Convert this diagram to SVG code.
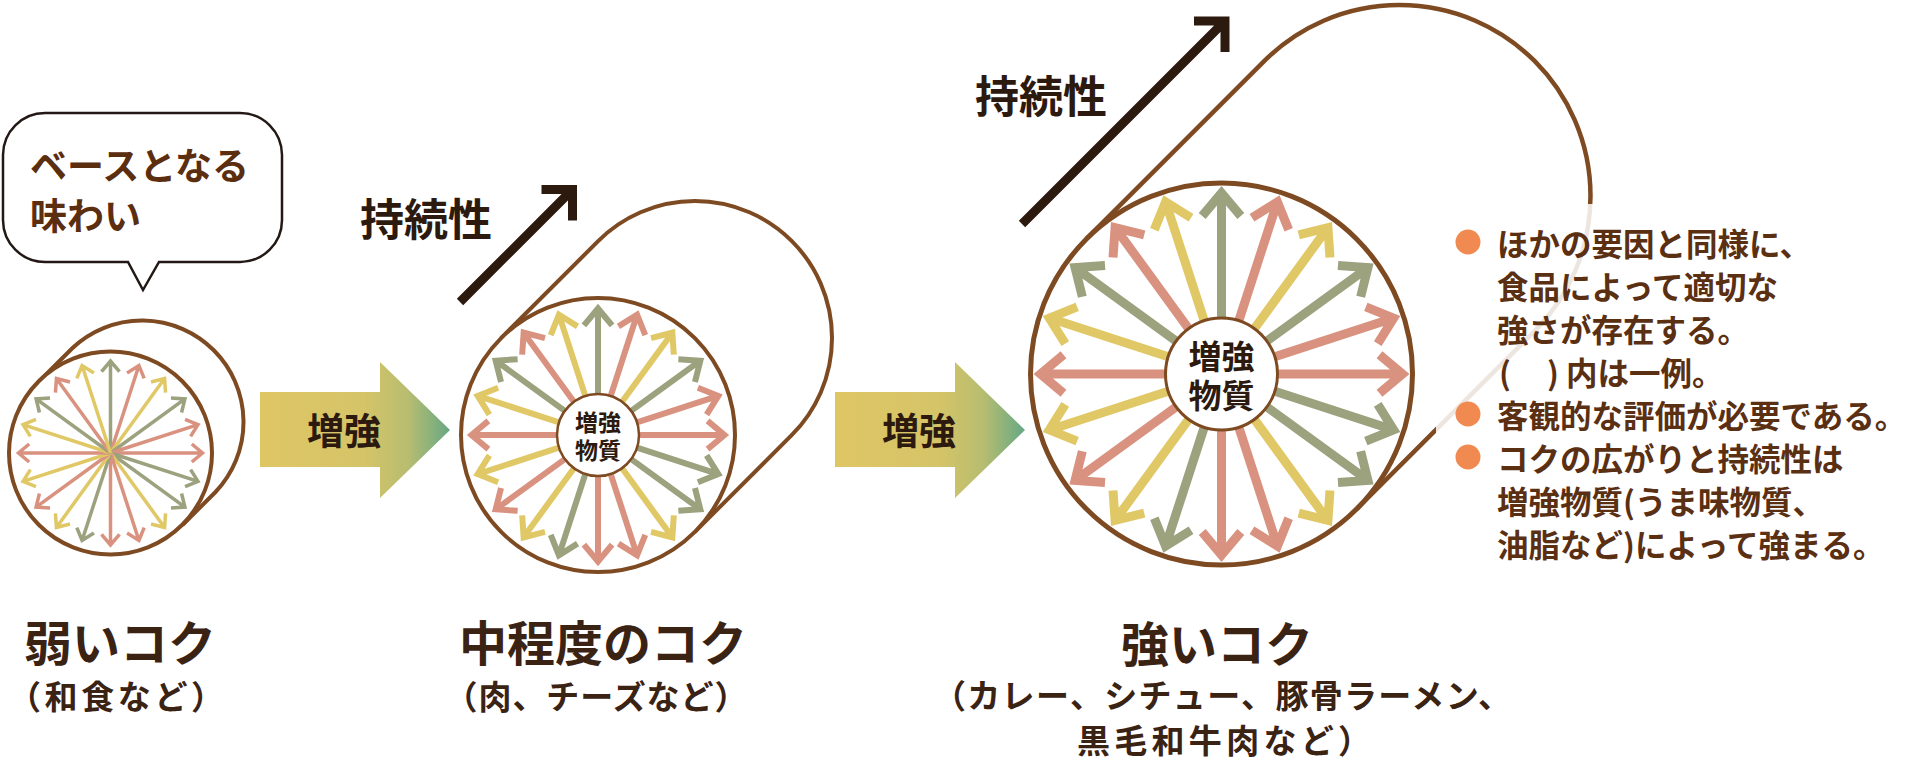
<svg xmlns="http://www.w3.org/2000/svg" xmlns:xlink="http://www.w3.org/1999/xlink" width="1916" height="762" viewBox="0 0 1916 762">
<style>
.t{font-family:"Noto Sans CJK JP","Noto Sans",sans-serif;}
.ring{fill:#fff;stroke:#7e4a22;}
.back{fill:none;stroke:#7e4a22;}
.sg{stroke:#9ba27d;}
.sp{stroke:#d9927f;}
.sy{stroke:#e1c866;}
.sk{fill:none;stroke-linejoin:miter;stroke-linecap:butt;}
.s1{stroke-width:3.5;}
.s2{stroke-width:6;}
.s3{stroke-width:9;}
.lbl{fill:#fff;stroke:#7e4a22;}
.title{font-size:48px;font-weight:700;fill:#3b2314;}
.sub{font-size:33px;font-weight:700;fill:#3b2314;}
.note{font-size:31.5px;font-weight:700;fill:#5a2f12;}
.bul{fill:#f08a50;}
.dur{fill:none;stroke:#2d1a0f;stroke-width:9;stroke-linejoin:miter;stroke-linecap:butt;}
</style>
<defs>
<linearGradient id="grad" x1="0" y1="0" x2="1" y2="0">
<stop offset="0" stop-color="#dfc665"/>
<stop offset="0.55" stop-color="#d5c468"/>
<stop offset="0.78" stop-color="#b7bd70"/>
<stop offset="1" stop-color="#66a884"/>
</linearGradient>
<path id="aL" d="M0,0 V-92 M-9,-81.3 L0,-92 L9,-81.3"/>
<path id="aM" d="M0,-41 V-126.5 M-14.1,-109.6 L0,-126.5 L14.1,-109.6"/>
<path id="aB" d="M0,-56 V-181 M-19.3,-158 L0,-181 L19.3,-158"/>
</defs>

<g id="bubble">
<path d="M45,113 H240 A42,42 0 0 1 282,155 V220 A42,42 0 0 1 240,262 H159 L143,290 L128,262 H45 A42,42 0 0 1 3,220 V155 A42,42 0 0 1 45,113 Z" fill="#fff" stroke="#231815" stroke-width="2.5"/>
<text class="t" x="30" y="164" dominant-baseline="central" font-size="37" font-weight="700" fill="#5a2e0e">ベースとなる</text>
<text class="t" x="30" y="214" dominant-baseline="central" font-size="37" font-weight="700" fill="#5a2e0e">味わい</text>
</g>

<g id="node-weak">
<path class="back" stroke-width="4" d="M39,381.5 L72,348.5 A101.5,101.5 0 0 1 215.5,492 L182.5,525"/>
<circle class="ring" cx="110.5" cy="453" r="101.5" stroke-width="4"/>
<g class="sk s1" transform="translate(110.5 453)">
<use xlink:href="#aL" class="sg" transform="rotate(0)"/>
<use xlink:href="#aL" class="sp" transform="rotate(18)"/>
<use xlink:href="#aL" class="sy" transform="rotate(36)"/>
<use xlink:href="#aL" class="sg" transform="rotate(54)"/>
<use xlink:href="#aL" class="sp" transform="rotate(72)"/>
<use xlink:href="#aL" class="sp" transform="rotate(90)"/>
<use xlink:href="#aL" class="sg" transform="rotate(108)"/>
<use xlink:href="#aL" class="sg" transform="rotate(126)"/>
<use xlink:href="#aL" class="sy" transform="rotate(144)"/>
<use xlink:href="#aL" class="sp" transform="rotate(162)"/>
<use xlink:href="#aL" class="sp" transform="rotate(180)"/>
<use xlink:href="#aL" class="sg" transform="rotate(198)"/>
<use xlink:href="#aL" class="sy" transform="rotate(216)"/>
<use xlink:href="#aL" class="sp" transform="rotate(234)"/>
<use xlink:href="#aL" class="sy" transform="rotate(252)"/>
<use xlink:href="#aL" class="sp" transform="rotate(270)"/>
<use xlink:href="#aL" class="sy" transform="rotate(288)"/>
<use xlink:href="#aL" class="sg" transform="rotate(306)"/>
<use xlink:href="#aL" class="sp" transform="rotate(324)"/>
<use xlink:href="#aL" class="sy" transform="rotate(342)"/>
</g>
<text class="t title" x="120" y="640" text-anchor="middle" dominant-baseline="central">弱いコク</text>
<text class="t sub" x="116" y="695" text-anchor="middle" dominant-baseline="central" textLength="216" lengthAdjust="spacing">（和食など）</text>
</g>

<g id="node-medium">
<path class="back" stroke-width="4" d="M501.1,338.1 L598.1,241.1 A137,137 0 0 1 791.9,434.9 L694.9,531.9"/>
<circle class="ring" cx="598" cy="435" r="137" stroke-width="4"/>
<g class="sk s2" transform="translate(598 435)">
<use xlink:href="#aM" class="sg" transform="rotate(0)"/>
<use xlink:href="#aM" class="sp" transform="rotate(18)"/>
<use xlink:href="#aM" class="sy" transform="rotate(36)"/>
<use xlink:href="#aM" class="sg" transform="rotate(54)"/>
<use xlink:href="#aM" class="sp" transform="rotate(72)"/>
<use xlink:href="#aM" class="sp" transform="rotate(90)"/>
<use xlink:href="#aM" class="sg" transform="rotate(108)"/>
<use xlink:href="#aM" class="sg" transform="rotate(126)"/>
<use xlink:href="#aM" class="sy" transform="rotate(144)"/>
<use xlink:href="#aM" class="sp" transform="rotate(162)"/>
<use xlink:href="#aM" class="sp" transform="rotate(180)"/>
<use xlink:href="#aM" class="sg" transform="rotate(198)"/>
<use xlink:href="#aM" class="sy" transform="rotate(216)"/>
<use xlink:href="#aM" class="sp" transform="rotate(234)"/>
<use xlink:href="#aM" class="sy" transform="rotate(252)"/>
<use xlink:href="#aM" class="sp" transform="rotate(270)"/>
<use xlink:href="#aM" class="sy" transform="rotate(288)"/>
<use xlink:href="#aM" class="sg" transform="rotate(306)"/>
<use xlink:href="#aM" class="sp" transform="rotate(324)"/>
<use xlink:href="#aM" class="sy" transform="rotate(342)"/>
</g>
<circle class="lbl" cx="598" cy="435" r="41" stroke-width="2.5"/>
<text class="t" x="598" y="421" text-anchor="middle" dominant-baseline="central" font-size="23" font-weight="700" fill="#2d1a0f">増強</text>
<text class="t" x="598" y="449" text-anchor="middle" dominant-baseline="central" font-size="23" font-weight="700" fill="#2d1a0f">物質</text>
<text class="t title" x="603" y="640" text-anchor="middle" dominant-baseline="central">中程度のコク</text>
<text class="t sub" x="596" y="695" text-anchor="middle" dominant-baseline="central" textLength="303" lengthAdjust="spacing">（肉、チーズなど）</text>
</g>

<g id="node-strong">
<path class="back" stroke-width="4.5" d="M1086.4,238.9 L1264.4,60.9 A191,191 0 0 1 1534.6,331.1 L1356.6,509.1"/>
<circle class="ring" cx="1221.5" cy="374" r="191" stroke-width="5"/>
<g class="sk s3" transform="translate(1221.5 374)">
<use xlink:href="#aB" class="sg" transform="rotate(0)"/>
<use xlink:href="#aB" class="sp" transform="rotate(18)"/>
<use xlink:href="#aB" class="sy" transform="rotate(36)"/>
<use xlink:href="#aB" class="sg" transform="rotate(54)"/>
<use xlink:href="#aB" class="sp" transform="rotate(72)"/>
<use xlink:href="#aB" class="sp" transform="rotate(90)"/>
<use xlink:href="#aB" class="sg" transform="rotate(108)"/>
<use xlink:href="#aB" class="sg" transform="rotate(126)"/>
<use xlink:href="#aB" class="sy" transform="rotate(144)"/>
<use xlink:href="#aB" class="sp" transform="rotate(162)"/>
<use xlink:href="#aB" class="sp" transform="rotate(180)"/>
<use xlink:href="#aB" class="sg" transform="rotate(198)"/>
<use xlink:href="#aB" class="sy" transform="rotate(216)"/>
<use xlink:href="#aB" class="sp" transform="rotate(234)"/>
<use xlink:href="#aB" class="sy" transform="rotate(252)"/>
<use xlink:href="#aB" class="sp" transform="rotate(270)"/>
<use xlink:href="#aB" class="sy" transform="rotate(288)"/>
<use xlink:href="#aB" class="sg" transform="rotate(306)"/>
<use xlink:href="#aB" class="sp" transform="rotate(324)"/>
<use xlink:href="#aB" class="sy" transform="rotate(342)"/>
</g>
<circle class="lbl" cx="1221.5" cy="374" r="56" stroke-width="3"/>
<text class="t" x="1221.5" y="355" text-anchor="middle" dominant-baseline="central" font-size="33" font-weight="700" fill="#2d1a0f">増強</text>
<text class="t" x="1221.5" y="394" text-anchor="middle" dominant-baseline="central" font-size="33" font-weight="700" fill="#2d1a0f">物質</text>
<text class="t title" x="1217" y="641" text-anchor="middle" dominant-baseline="central">強いコク</text>
<text class="t sub" x="1222" y="694" text-anchor="middle" dominant-baseline="central" font-size="33" textLength="578" lengthAdjust="spacing">（カレー、シチュー、豚骨ラーメン、</text>
<text class="t sub" x="1224" y="739" text-anchor="middle" dominant-baseline="central" font-size="32" textLength="294" lengthAdjust="spacing">黒毛和牛肉など）</text>
</g>

<g id="connectors">
<polygon points="260,392 380,392 380,362 450,430 380,498 380,467 260,467" fill="url(#grad)"/>
<text class="t" x="344" y="429" text-anchor="middle" dominant-baseline="central" font-size="37" font-weight="700" fill="#2d1a0f">増強</text>
<polygon points="835,392 955,392 955,362 1025,430 955,498 955,467 835,467" fill="url(#grad)"/>
<text class="t" x="919" y="429" text-anchor="middle" dominant-baseline="central" font-size="37" font-weight="700" fill="#2d1a0f">増強</text>
<path class="dur" d="M460,302 L572.5,189.5 M541.5,189.5 L572.5,189.5 L572.5,220.5"/>
<text class="t" x="426" y="217" text-anchor="middle" dominant-baseline="central" font-size="44" font-weight="700" fill="#2d1a0f">持続性</text>
<path class="dur" d="M1022,224 L1225,21 M1194,21 L1225,21 L1225,52"/>
<text class="t" x="1041" y="94" text-anchor="middle" dominant-baseline="central" font-size="44" font-weight="700" fill="#2d1a0f">持続性</text>
</g>

<g id="notes">
<rect x="1436" y="204" width="470" height="360" fill="#fff" opacity="0.86"/>
<circle class="bul" cx="1468" cy="242" r="12.5"/>
<circle class="bul" cx="1468" cy="414" r="12.5"/>
<circle class="bul" cx="1468" cy="457" r="12.5"/>
<text class="t note" x="1497" y="242" dominant-baseline="central">ほかの要因と同様に、</text>
<text class="t note" x="1497" y="285" dominant-baseline="central">食品によって適切な</text>
<text class="t note" x="1497" y="328" dominant-baseline="central">強さが存在する。</text>
<text class="t note" y="371" dominant-baseline="central"><tspan x="1499">(</tspan><tspan x="1547">)</tspan><tspan x="1566">内は一例。</tspan></text>
<text class="t note" x="1497" y="414" dominant-baseline="central">客観的な評価が必要である。</text>
<text class="t note" x="1497" y="457" dominant-baseline="central">コクの広がりと持続性は</text>
<text class="t note" x="1497" y="500" dominant-baseline="central">増強物質(うま味物質、</text>
<text class="t note" x="1497" y="543" dominant-baseline="central">油脂など)によって強まる。</text>
</g>
</svg>
